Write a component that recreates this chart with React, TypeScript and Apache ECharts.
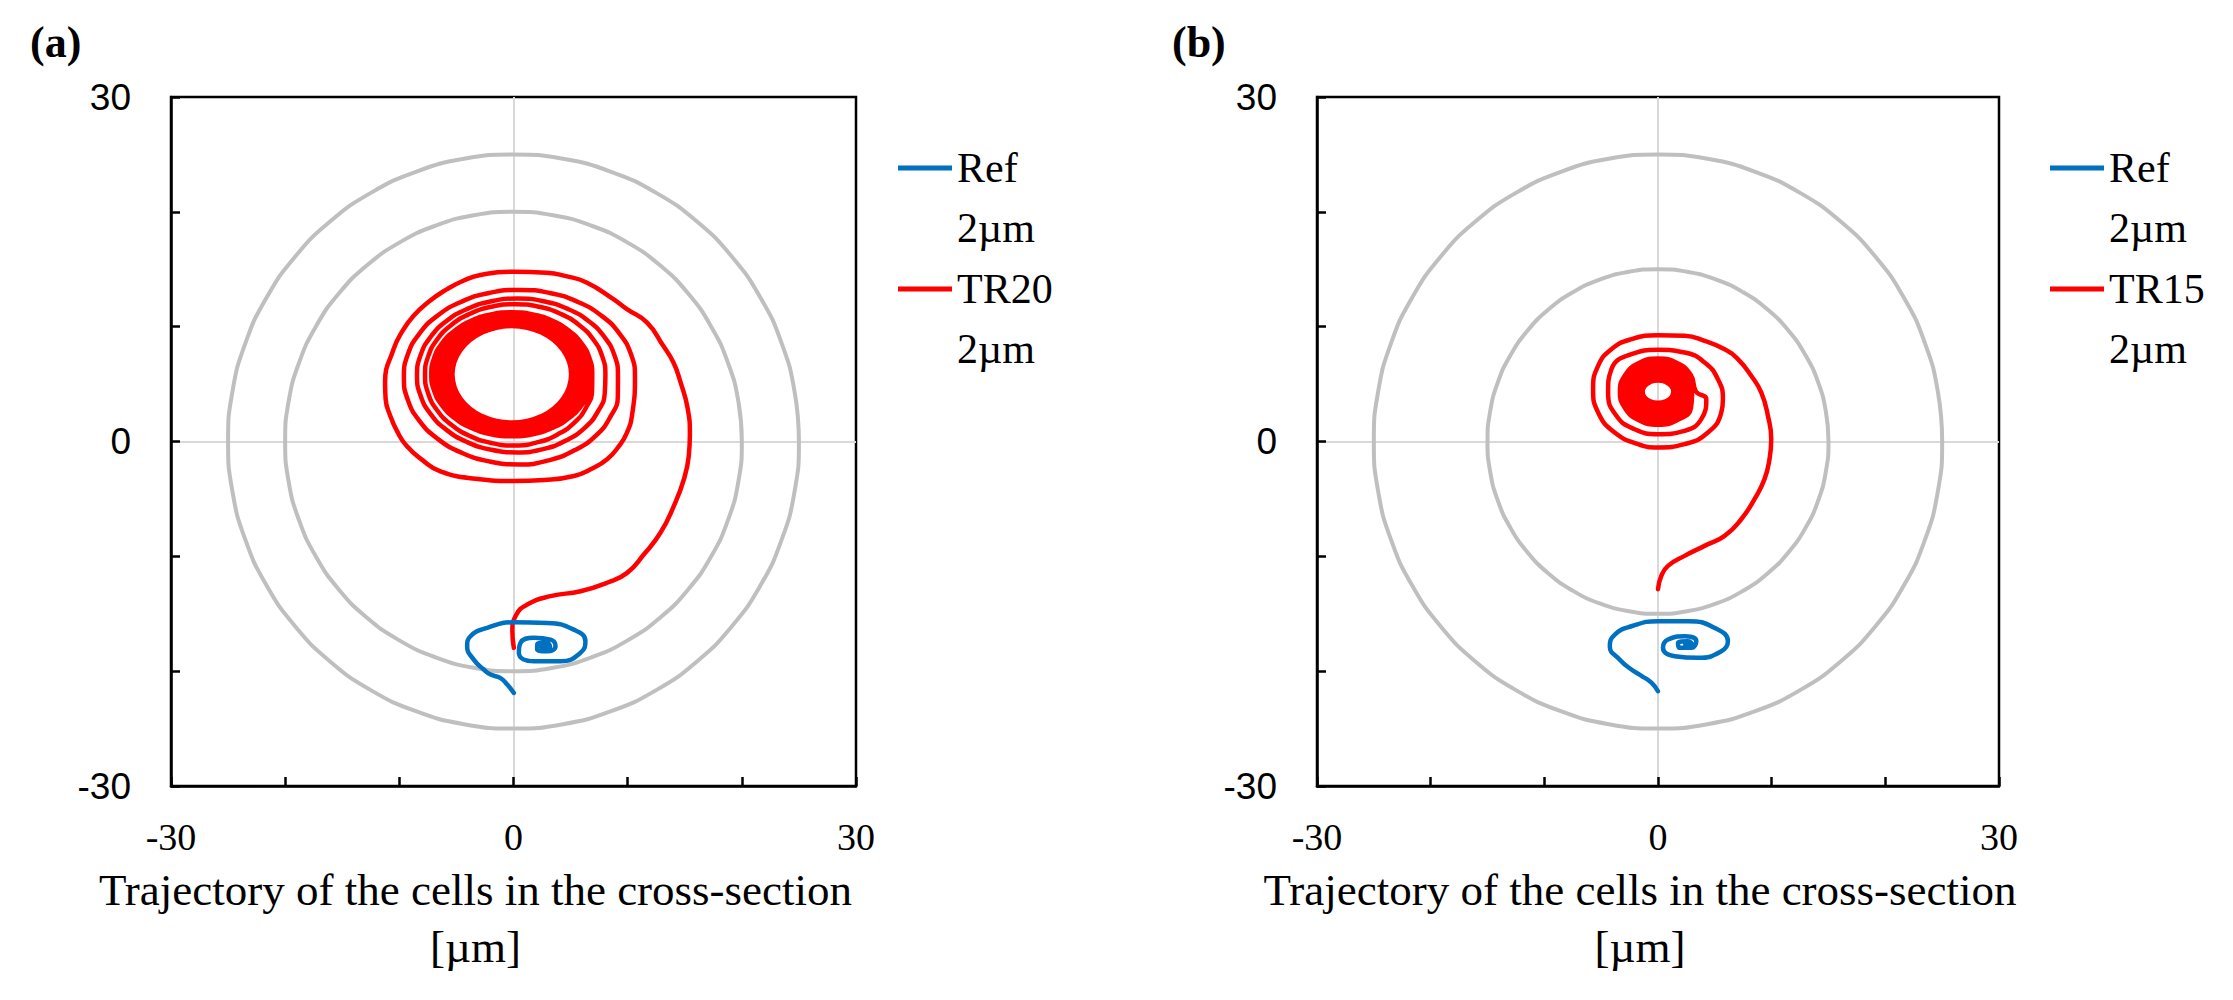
import React, { useEffect, useRef } from 'react';
import * as echarts from 'echarts';

// ---------- axis ----------
const AXIS_MIN = -30;
const AXIS_MAX = 30;
const AXIS_STEP = 30;
const MINOR_SPLIT = 3;

// ---------- channel walls (gray circles) ----------
const circle25 = [[25,0],[24.62,4.34],[23.49,8.55],[21.65,12.5],[19.15,16.07],[16.07,19.15],[12.5,21.65],[8.55,23.49],[4.34,24.62],[0,25],
  [-4.34,24.62],[-8.55,23.49],[-12.5,21.65],[-16.07,19.15],[-19.15,16.07],[-21.65,12.5],[-23.49,8.55],[-24.62,4.34],[-25,0],
  [-24.62,-4.34],[-23.49,-8.55],[-21.65,-12.5],[-19.15,-16.07],[-16.07,-19.15],[-12.5,-21.65],[-8.55,-23.49],[-4.34,-24.62],[0,-25],
  [4.34,-24.62],[8.55,-23.49],[12.5,-21.65],[16.07,-19.15],[19.15,-16.07],[21.65,-12.5],[23.49,-8.55],[24.62,-4.34],[25,0],[24.62,4.34]];
const circle20 = [[20,0],[19.7,3.47],[18.79,6.84],[17.32,10],[15.32,12.86],[12.86,15.32],[10,17.32],[6.84,18.79],[3.47,19.7],[0,20],
  [-3.47,19.7],[-6.84,18.79],[-10,17.32],[-12.86,15.32],[-15.32,12.86],[-17.32,10],[-18.79,6.84],[-19.7,3.47],[-20,0],
  [-19.7,-3.47],[-18.79,-6.84],[-17.32,-10],[-15.32,-12.86],[-12.86,-15.32],[-10,-17.32],[-6.84,-18.79],[-3.47,-19.7],[0,-20],
  [3.47,-19.7],[6.84,-18.79],[10,-17.32],[12.86,-15.32],[15.32,-12.86],[17.32,-10],[18.79,-6.84],[19.7,-3.47],[20,0],[19.7,3.47]];
const circle15 = [[15,0],[14.77,2.6],[14.1,5.13],[12.99,7.5],[11.49,9.64],[9.64,11.49],[7.5,12.99],[5.13,14.1],[2.6,14.77],[0,15],
  [-2.6,14.77],[-5.13,14.1],[-7.5,12.99],[-9.64,11.49],[-11.49,9.64],[-12.99,7.5],[-14.1,5.13],[-14.77,2.6],[-15,0],
  [-14.77,-2.6],[-14.1,-5.13],[-12.99,-7.5],[-11.49,-9.64],[-9.64,-11.49],[-7.5,-12.99],[-5.13,-14.1],[-2.6,-14.77],[0,-15],
  [2.6,-14.77],[5.13,-14.1],[7.5,-12.99],[9.64,-11.49],[11.49,-9.64],[12.99,-7.5],[14.1,-5.13],[14.77,-2.6],[15,0],[14.77,2.6]];

// ---------- panel (a) ----------
const redA_entry = [[0.03,-17.97],[-0.1,-16.5],[0.18,-15.2],[1.2,-14.2],[3.24,-13.47],[5.87,-13.04],[8.2,-12.3],[9.95,-11.44],[11.41,-9.84],[12.87,-7.95],[14.04,-5.63],[14.92,-3.31],[15.35,-1.28],[15.45,0.6],[15.25,2.9],[14.65,5.1],[14.0,6.9],[13.1,8.35],[11.7,10.35],[9.9,11.55],[8.75,12.4],[6.4,13.85],[4.6,14.4],[2.9,14.7],[0,14.78],[-2.9,14.5],[-4.4,14.0],[-5.85,13.25],[-7.4,12.2],[-8.75,10.95],[-9.8,9.5],[-10.5,8.05],[-11.25,5.15],[-11.2,3.7],[-10.8,2.25],[-10.2,0.9],[-9.35,-0.4],[-8.0,-1.6],[-6.4,-2.6],[-3.3,-3.25],[0,-3.45],[2.7,-3.35],[5.3,-3.0],[6.9,-2.35],[8.2,-1.55],[9.2,-0.45],[9.95,0.8],[10.4,2.4]];
const redA_loop2 = [[10.64,5.6],[10.3,7.57],[9.28,9.4],[7.68,10.97],[5.58,12.18],[3.14,12.94],[0.52,13.2],[-2.1,12.94],[-4.54,12.18],[-6.64,10.97],[-8.24,9.4],[-9.26,7.57],[-9.6,5.6],[-9.26,3.63],[-8.24,1.8],[-6.64,0.23],[-4.54,-0.98],[-2.1,-1.74],[0.52,-2.0],[3.09,-1.64],[5.37,-0.75],[7.24,0.54],[8.49,2.16],[9.14,3.94]];
const redA_loop3 = [[9.15,5.75],[8.85,7.48],[7.97,9.1],[6.57,10.49],[4.75,11.55],[2.63,12.22],[0.35,12.45],[-1.93,12.22],[-4.05,11.55],[-5.87,10.49],[-7.27,9.1],[-8.15,7.48],[-8.45,5.75],[-8.15,4.02],[-7.27,2.4],[-5.87,1.01],[-4.05,-0.05],[-1.93,-0.72],[0.35,-0.95],[2.59,-0.66],[4.59,0.08],[6.24,1.19],[7.38,2.59],[7.99,4.17]];
const redA_loop4 = [[8.05,5.8],[7.78,7.39],[6.99,8.88],[5.74,10.15],[4.1,11.13],[2.2,11.74],[0.15,11.95],[-1.9,11.74],[-3.8,11.13],[-5.44,10.15],[-6.69,8.88],[-7.48,7.39],[-7.75,5.8],[-7.48,4.21],[-6.69,2.72],[-5.44,1.45],[-3.8,0.47],[-1.9,-0.14],[0.15,-0.35],[2.15,-0.06],[3.92,0.65],[5.38,1.68],[6.37,2.98],[6.88,4.4]];
const redA_dense = [
  [6.9,5.85],[6.66,7.25],[5.96,8.55],[4.84,9.67],[3.38,10.53],[1.68,11.07],[-0.15,11.25],[-1.98,11.07],[-3.68,10.53],[-5.14,9.67],[-6.26,8.55],[-6.96,7.25],[-7.2,5.85],[-6.96,4.45],[-6.26,3.15],[-5.14,2.03],[-3.68,1.17],[-1.98,0.63],[-0.15,0.45],[1.68,0.63],[3.38,1.17],[4.84,2.03],[5.96,3.15],[6.66,4.45],
  [6.55,5.85],[6.32,7.18],[5.65,8.41],[4.59,9.47],[3.2,10.28],[1.58,10.8],[-0.15,10.97],[-1.88,10.8],[-3.5,10.28],[-4.89,9.47],[-5.95,8.41],[-6.62,7.18],[-6.85,5.85],[-6.62,4.53],[-5.95,3.29],[-4.89,2.23],[-3.5,1.42],[-1.88,0.91],[-0.15,0.73],[1.58,0.91],[3.2,1.42],[4.59,2.23],[5.65,3.29],[6.32,4.53],
  [6.25,5.85],[6.03,7.12],[5.39,8.3],[4.38,9.32],[3.05,10.09],[1.51,10.58],[-0.15,10.75],[-1.81,10.58],[-3.35,10.09],[-4.68,9.32],[-5.69,8.3],[-6.33,7.12],[-6.55,5.85],[-6.33,4.58],[-5.69,3.4],[-4.68,2.39],[-3.35,1.61],[-1.81,1.12],[-0.15,0.95],[1.51,1.12],[3.05,1.61],[4.38,2.39],[5.39,3.4],[6.03,4.58],
  [5.95,5.85],[5.74,7.07],[5.13,8.2],[4.16,9.17],[2.9,9.92],[1.43,10.39],[-0.15,10.55],[-1.73,10.39],[-3.2,9.92],[-4.46,9.17],[-5.43,8.2],[-6.04,7.07],[-6.25,5.85],[-6.04,4.63],[-5.43,3.5],[-4.46,2.53],[-3.2,1.78],[-1.73,1.31],[-0.15,1.15],[1.43,1.31],[2.9,1.78],[4.16,2.53],[5.13,3.5],[5.74,4.63],
  [5.65,5.85],[5.45,7.02],[4.87,8.11],[3.95,9.05],[2.75,9.76],[1.35,10.22],[-0.15,10.37],[-1.65,10.22],[-3.05,9.76],[-4.25,9.05],[-5.17,8.11],[-5.75,7.02],[-5.95,5.85],[-5.75,4.68],[-5.17,3.59],[-4.25,2.65],[-3.05,1.94],[-1.65,1.48],[-0.15,1.33],[1.35,1.48],[2.75,1.94],[3.95,2.65],[4.87,3.59],[5.45,4.68],
  [5.4,5.85],[5.21,6.98],[4.66,8.04],[3.77,8.95],[2.63,9.64],[1.29,10.08],[-0.15,10.23],[-1.59,10.08],[-2.93,9.64],[-4.07,8.95],[-4.96,8.04],[-5.51,6.98],[-5.7,5.85],[-5.51,4.72],[-4.96,3.66],[-4.07,2.75],[-2.93,2.06],[-1.59,1.62],[-0.15,1.47],[1.29,1.62],[2.63,2.06],[3.77,2.75],[4.66,3.66],[5.21,4.72],
  [5.2,5.85],[5.02,6.96],[4.48,7.99],[3.63,8.87],[2.53,9.55],[1.24,9.97],[-0.15,10.12],[-1.54,9.97],[-2.83,9.55],[-3.93,8.87],[-4.78,7.99],[-5.32,6.96],[-5.5,5.85],[-5.32,4.74],[-4.78,3.71],[-3.93,2.83],[-2.83,2.15],[-1.54,1.73],[-0.15,1.58],[1.24,1.73],[2.53,2.15],[3.63,2.83],[4.48,3.71],[5.02,4.74],
  [5.05,5.85],[4.87,6.94],[4.35,7.95],[3.53,8.82],[2.45,9.49],[1.2,9.91],[-0.15,10.05],[-1.5,9.91],[-2.75,9.49],[-3.83,8.82],[-4.65,7.95],[-5.17,6.94],[-5.35,5.85],[-5.17,4.76],[-4.65,3.75],[-3.83,2.88],[-2.75,2.21],[-1.5,1.79],[-0.15,1.65],[1.2,1.79],[2.45,2.21],[3.53,2.88],[4.35,3.75],[4.87,4.76],[5.05,5.85]];
const blueA = [[0.03,-21.9],[-0.55,-21.17],[-1.14,-20.6],[-2.0,-20.3],[-2.6,-19.86],[-3.48,-19.0],[-4.06,-17.83],[-3.77,-16.96],[-2.3,-16.23],[0.03,-15.74],[2.95,-15.8],[5.28,-16.38],[6.3,-17.4],[5.87,-18.4],[4.12,-19.14],[1.78,-19.14],[0.47,-18.4],[0.61,-17.54],[1.78,-17.1],[3.24,-17.25],[3.68,-17.83],[2.95,-18.27],[2.07,-18.1],[2.1,-17.6],[2.8,-17.5],[3.2,-17.85],[2.7,-18.05],[2.4,-17.8],[2.75,-17.7],[2.9,-17.9],[2.6,-17.9]];

// ---------- panel (b) ----------
const redB_entry = [[0,-12.86],[0.29,-11.7],[0.88,-10.83],[2.34,-9.96],[4.1,-9.09],[5.86,-8.22],[7.32,-6.77],[8.49,-5.02],[9.37,-3.28],[9.81,-1.54],[9.96,0.2],[9.67,2.24],[9.08,4.27],[8.2,5.72],[7.03,7.17],[5.86,8.04],[4.1,8.77],[2.34,9.2],[0,9.26],[-2.34,8.91],[-4.1,8.04],[-5.27,6.59],[-5.71,4.56],[-5.27,2.53],[-3.81,0.78],[-1.76,-0.23],[0,-0.52],[2.34,-0.23],[4.39,0.78],[5.57,2.53],[5.71,3.69],[5.27,5.43],[4.1,6.88],[2.34,7.75],[0,7.98],[-2.34,7.6],[-4.1,6.3],[-4.39,4.27],[-3.66,2.24],[-2.05,1.07],[0,0.64],[2.34,0.93],[3.81,1.95],[4.25,3.69]];
const redB_dense = [
  [3.35,4.34],[2.9,5.78],[1.68,6.83],[0,7.22],[-1.68,6.83],[-2.9,5.78],[-3.35,4.34],[-2.9,2.9],[-1.68,1.85],[0,1.46],[1.68,1.85],[2.9,2.9],
  [3,4.34],[2.6,5.62],[1.5,6.55],[0,6.89],[-1.5,6.55],[-2.6,5.62],[-3,4.34],[-2.6,3.06],[-1.5,2.13],[0,1.79],[1.5,2.13],[2.6,3.06],
  [2.65,4.34],[2.29,5.45],[1.33,6.26],[0,6.56],[-1.33,6.26],[-2.29,5.45],[-2.65,4.34],[-2.29,3.23],[-1.33,2.42],[0,2.12],[1.33,2.42],[2.29,3.23],
  [2.3,4.34],[1.99,5.29],[1.15,5.99],[0,6.24],[-1.15,5.99],[-1.99,5.29],[-2.3,4.34],[-1.99,3.39],[-1.15,2.69],[0,2.44],[1.15,2.69],[1.99,3.39],
  [2,4.34],[1.73,5.14],[1,5.73],[0,5.94],[-1,5.73],[-1.73,5.14],[-2,4.34],[-1.73,3.54],[-1,2.95],[0,2.74],[1,2.95],[1.73,3.54],
  [1.72,4.34],[1.49,5.01],[0.86,5.49],[0,5.67],[-0.86,5.49],[-1.49,5.01],[-1.72,4.34],[-1.49,3.67],[-0.86,3.19],[0,3.01],[0.86,3.19],[1.49,3.67],
  [1.5,4.34],[1.3,4.9],[0.75,5.31],[0,5.46],[-0.75,5.31],[-1.3,4.9],[-1.5,4.34],[-1.3,3.78],[-0.75,3.37],[0,3.22],[0.75,3.37],[1.3,3.78],
  [1.35,4.34],[1.17,4.83],[0.68,5.18],[0,5.31],[-0.68,5.18],[-1.17,4.83],[-1.35,4.34],[-1.17,3.85],[-0.68,3.5],[0,3.37],[0.68,3.5],[1.17,3.85],[1.35,4.34]];
const blueB = [[0,-21.75],[-0.58,-21.0],[-1.46,-20.4],[-2.34,-19.86],[-3.36,-19.0],[-4.24,-17.83],[-3.8,-16.81],[-2.34,-16.09],[0,-15.65],[2.64,-15.65],[4.98,-16.23],[6.15,-17.4],[5.57,-18.27],[3.52,-18.84],[1.47,-18.7],[0.44,-17.97],[0.88,-17.25],[2.35,-16.96],[3.37,-17.4],[2.93,-17.97],[1.9,-17.97],[1.76,-17.54],[2.64,-17.4],[3.0,-17.7],[2.5,-17.85],[2.4,-17.6],[2.7,-17.65]];

// ---------- texts ----------
const PANEL_LABELS = ['(a)', '(b)'];
const SERIES_A = ['Ref\n2µm', 'TR20\n2µm'];
const SERIES_B = ['Ref\n2µm', 'TR15\n2µm'];
const AXIS_TITLE = 'Trajectory of the cells in the cross-section\n[µm]';

const BLUE = '#0070C0';
const RED = '#FF0000';
const GRAY = '#BFBFBF';
const SERIF = 'Liberation Serif';
const SANS = 'Liberation Sans';

function makeX(gi: number, padRight: number) {
  return {
    type: 'value', gridIndex: gi, min: AXIS_MIN, max: AXIS_MAX, interval: AXIS_STEP,
    axisLine: { show: true, onZero: false, lineStyle: { color: '#000', width: 2.5 } },
    axisTick: { show: true, inside: true, length: 9, lineStyle: { color: '#000', width: 2.5 } },
    minorTick: { show: true, splitNumber: MINOR_SPLIT, length: 9, lineStyle: { color: '#000', width: 2.5 } },
    splitLine: { show: true, showMinLine: false, showMaxLine: false, lineStyle: { color: '#D9D9D9', width: 2 } },
    axisLabel: { fontFamily: SERIF, fontSize: 38, color: '#000', margin: 32 },
    name: AXIS_TITLE, nameLocation: 'middle', nameGap: 75,
    nameTextStyle: { fontFamily: SERIF, fontSize: 45, lineHeight: 57, color: '#000', padding: [0, padRight, 0, 0], verticalAlign: 'top' },
  };
}
function makeY(gi: number) {
  return {
    type: 'value', gridIndex: gi, min: AXIS_MIN, max: AXIS_MAX, interval: AXIS_STEP,
    axisLine: { show: true, onZero: false, lineStyle: { color: '#000', width: 2.5 } },
    axisTick: { show: true, inside: true, length: 9, lineStyle: { color: '#000', width: 2.5 } },
    minorTick: { show: true, splitNumber: MINOR_SPLIT, length: 9, lineStyle: { color: '#000', width: 2.5 } },
    splitLine: { show: true, showMinLine: false, showMaxLine: false, lineStyle: { color: '#D9D9D9', width: 2 } },
    axisLabel: { fontFamily: SANS, fontSize: 37, color: '#000', margin: 40 },
  };
}
function line(name: string, data: number[][], color: string, gi: number, width: number, z: number) {
  return {
    type: 'line', name, data, xAxisIndex: gi, yAxisIndex: gi, smooth: true,
    showSymbol: false, symbol: 'none', silent: true, z,
    lineStyle: { color, width, join: 'round', cap: 'round' }, itemStyle: { color },
  };
}
function legend(left: number, names: string[]) {
  return {
    orient: 'vertical', left, top: 78, padding: 0, itemGap: -59,
    itemWidth: 54, itemHeight: 5, icon: 'rect', selectedMode: false, data: names,
    formatter: (n: string) => '\n' + n,
    textStyle: { fontFamily: SERIF, fontSize: 42, lineHeight: 60, color: '#000' },
  };
}

export default function App() {
  const ref = useRef<HTMLDivElement>(null);
  useEffect(() => {
    const chart = echarts.init(ref.current!, undefined, { renderer: 'svg' });
    const redA = [...redA_entry, ...redA_loop2, ...redA_loop3, ...redA_loop4, ...redA_dense];
    const redB = [...redB_entry, ...redB_dense];
    chart.setOption({
      animation: false,
      backgroundColor: '#fff',
      grid: [
        { left: 171, top: 97, width: 685, height: 689, show: true, borderColor: '#000', borderWidth: 2.5, backgroundColor: 'transparent' },
        { left: 1317, top: 97, width: 682, height: 689, show: true, borderColor: '#000', borderWidth: 2.5, backgroundColor: 'transparent' },
      ],
      xAxis: [makeX(0, 76), makeX(1, 36)],
      yAxis: [makeY(0), makeY(1)],
      legend: [legend(898, SERIES_A), legend(2050, SERIES_B)],
      graphic: [
        { type: 'text', x: 30, y: 20, style: { text: PANEL_LABELS[0], fontFamily: SERIF, fontWeight: 'bold', fontSize: 44, fill: '#000' } },
        { type: 'text', x: 1172, y: 20, style: { text: PANEL_LABELS[1], fontFamily: SERIF, fontWeight: 'bold', fontSize: 44, fill: '#000' } },
      ],
      series: [
        line('wallA25', circle25, GRAY, 0, 4, 1),
        line('wallA20', circle20, GRAY, 0, 4, 1),
        line(SERIES_A[1], redA, RED, 0, 4.5, 3),
        line(SERIES_A[0], blueA, BLUE, 0, 4.5, 4),
        line('wallB25', circle25, GRAY, 1, 4, 1),
        line('wallB15', circle15, GRAY, 1, 4, 1),
        line(SERIES_B[1], redB, RED, 1, 4.5, 3),
        line(SERIES_B[0], blueB, BLUE, 1, 4.5, 4),
      ],
    });
    return () => chart.dispose();
  }, []);
  return <div ref={ref} style={{ position: 'absolute', left: 0, top: 0, width: 2233, height: 1000, background: '#fff' }} />;
}
